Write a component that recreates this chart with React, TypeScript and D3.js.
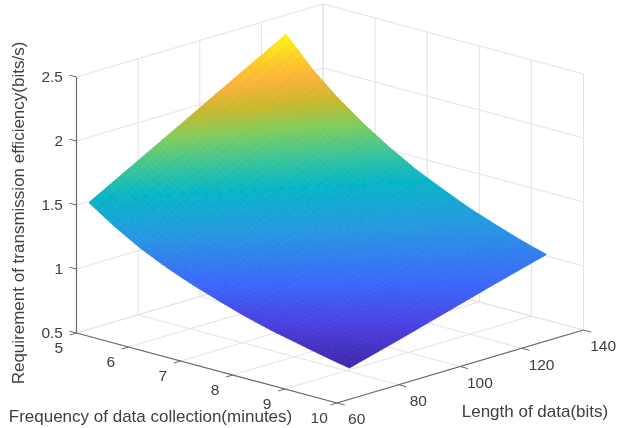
import React, { useEffect, useRef } from "react";
import * as d3 from "d3";

// Values
const frequencyTicks = [5, 6, 7, 8, 9, 10];
const lengthTicks = [60, 80, 100, 120, 140];
const efficiencyTicks = [0.5, 1, 1.5, 2, 2.5];

const frequencies = [5, 5.5, 6, 6.5, 7, 7.5, 8, 8.5, 9, 9.5, 10];
const lengths = [64, 80, 96, 112, 128];

const effAt64 = [1.49, 1.355, 1.24, 1.145, 1.065, 0.995, 0.93, 0.875, 0.83, 0.785, 0.745];
const effAt80 = [1.705, 1.55, 1.42, 1.31, 1.22, 1.135, 1.065, 1.005, 0.945, 0.895, 0.85];
const effAt96 = [1.92, 1.745, 1.6, 1.475, 1.37, 1.28, 1.2, 1.13, 1.065, 1.01, 0.96];
const effAt112 = [2.135, 1.94, 1.78, 1.64, 1.525, 1.425, 1.335, 1.255, 1.185, 1.125, 1.07];
const effAt128 = [2.35, 2.135, 1.96, 1.81, 1.68, 1.565, 1.47, 1.38, 1.305, 1.235, 1.175];
const efficiency = [effAt64, effAt80, effAt96, effAt112, effAt128];

// colour at a given height, sampled from the surface
const colorStops = [0.745, 0.9, 1.07, 1.31, 1.51, 1.65, 1.81, 1.95, 2.08, 2.18, 2.35];
const colorValues = ["#3e26a8", "#4a3fe0", "#3a68fa", "#2699e0", "#05b4c8", "#35c39c", "#7fcc5f", "#c8b82c", "#f8b23a", "#fdc52c", "#f9f815"];

const GRID = "#e3e3e3";
const AXIS = "#6a6a6a";
const TEXT = "#404040";
const FONT = "'Liberation Sans', Arial, sans-serif";

const SurfaceChart = () => {
  const chartRef = useRef<SVGSVGElement | null>(null);

  useEffect(() => {
    drawChart();
  }, []);

  const drawChart = () => {
    const svg = d3.select(chartRef.current);
    svg.selectAll("*").remove();

    // the reference is a slightly soft bitmap
    svg
      .append("defs")
      .append("filter")
      .attr("id", "soft")
      .append("feGaussianBlur")
      .attr("stdDeviation", 0.45);
    const root = svg.append("g").attr("filter", "url(#soft)");

    // oblique projection, each axis adds its own screen offset
    const fx = d3.scaleLinear().domain([5, 10]).range([0, 260.5]);
    const fy = d3.scaleLinear().domain([5, 10]).range([0, 70]);
    const lx = d3.scaleLinear().domain([60, 140]).range([76.5, 323]);
    const ly = d3.scaleLinear().domain([60, 140]).range([0, -73]);
    const zy = d3.scaleLinear().domain([0.5, 2.5]).range([333, 77]);

    const project = (f: number, l: number, z: number): [number, number] => [
      fx(f) + lx(l),
      fy(f) + ly(l) + zy(z),
    ];

    const color = d3
      .scaleLinear<string>()
      .domain(colorStops)
      .range(colorValues)
      .interpolate(d3.interpolateRgb)
      .clamp(true);

    const line = d3.line();
    const gridLine = (a: [number, number, number], b: [number, number, number]) =>
      root
        .append("path")
        .attr("d", line([project(a[0], a[1], a[2]), project(b[0], b[1], b[2])]))
        .attr("fill", "none")
        .attr("stroke", GRID)
        .attr("stroke-width", 1);

    // back walls and floor
    efficiencyTicks.forEach((z) => {
      gridLine([5, 60, z], [5, 140, z]);
      gridLine([5, 140, z], [10, 140, z]);
    });
    lengthTicks.forEach((l) => {
      gridLine([5, l, 0.5], [10, l, 0.5]);
      gridLine([5, l, 0.5], [5, l, 2.5]);
    });
    frequencyTicks.forEach((f) => {
      gridLine([f, 60, 0.5], [f, 140, 0.5]);
      gridLine([f, 140, 0.5], [f, 140, 2.5]);
    });

    // interpolated shading: split each grid cell into small quads
    const stepsF = 5;
    const stepsL = 12;
    const surface = root.append("g");
    for (let i = 0; i < lengths.length - 1; i++) {
      for (let j = 0; j < frequencies.length - 1; j++) {
        const at = (u: number, v: number): [number, number, number] => {
          const f = frequencies[j] + (frequencies[j + 1] - frequencies[j]) * v;
          const l = lengths[i] + (lengths[i + 1] - lengths[i]) * u;
          const z0 = efficiency[i][j] + (efficiency[i][j + 1] - efficiency[i][j]) * v;
          const z1 = efficiency[i + 1][j] + (efficiency[i + 1][j + 1] - efficiency[i + 1][j]) * v;
          return [f, l, z0 + (z1 - z0) * u];
        };
        for (let a = 0; a < stepsL; a++) {
          for (let b = 0; b < stepsF; b++) {
            const corners = [
              at(a / stepsL, b / stepsF),
              at((a + 1) / stepsL, b / stepsF),
              at((a + 1) / stepsL, (b + 1) / stepsF),
              at(a / stepsL, (b + 1) / stepsF),
            ];
            const fill = color(d3.mean(corners, (c) => c[2]) as number);
            surface
              .append("path")
              .attr("d", line(corners.map((c) => project(c[0], c[1], c[2]))) + "Z")
              .attr("fill", fill)
              .attr("stroke", fill)
              .attr("stroke-width", 0.7);
          }
        }
      }
    }

    const axisLine = (a: [number, number, number], b: [number, number, number]) =>
      root
        .append("path")
        .attr("d", line([project(a[0], a[1], a[2]), project(b[0], b[1], b[2])]))
        .attr("fill", "none")
        .attr("stroke", AXIS)
        .attr("stroke-width", 1.2);

    const label = (text: string, x: number, y: number, anchor = "middle", size = 15.5) =>
      root
        .append("text")
        .attr("x", x)
        .attr("y", y)
        .attr("dy", "0.35em")
        .attr("text-anchor", anchor)
        .attr("font-family", FONT)
        .attr("font-size", size)
        .attr("fill", TEXT)
        .text(text);

    // axes
    axisLine([5, 60, 0.5], [5, 60, 2.5]);
    axisLine([5, 60, 0.5], [10, 60, 0.5]);
    axisLine([10, 60, 0.5], [10, 140, 0.5]);

    efficiencyTicks.forEach((z) => {
      const [x, y] = project(5, 60, z);
      root
        .append("path")
        .attr("d", line([[x, y], [x - 7, y - 1.8]]))
        .attr("stroke", AXIS)
        .attr("fill", "none");
      label(String(z), 63, y, "end");
    });
    frequencyTicks.forEach((f) => {
      const [x, y] = project(f, 60, 0.5);
      root
        .append("path")
        .attr("d", line([[x, y], project(f, 57.8, 0.5)]))
        .attr("stroke", AXIS)
        .attr("fill", "none");
      label(String(f), x - 17.8, y + 15);
    });
    lengthTicks.forEach((l) => {
      const [x, y] = project(10, l, 0.5);
      root
        .append("path")
        .attr("d", line([[x, y], project(10.15, l, 0.5)]))
        .attr("stroke", AXIS)
        .attr("fill", "none");
      label(String(l), x + 19.7, y + 16);
    });

    // axis titles
    label("Frequency of data collection(minutes)", 150.5, 416, "middle", 17);
    label("Length of data(bits)", 535, 411, "middle", 17);
    root
      .append("text")
      .attr("transform", "translate(18,213) rotate(-90)")
      .attr("dy", "0.35em")
      .attr("text-anchor", "middle")
      .attr("font-family", FONT)
      .attr("font-size", 17)
      .attr("fill", TEXT)
      .text("Requirement of transmission efficiency(bits/s)");
  };

  return (
    <svg
      ref={chartRef}
      width={623}
      height={428}
      style={{ position: "absolute", left: 0, top: 0, background: "#fff" }}
    ></svg>
  );
};

export default function App() {
  return <SurfaceChart />;
}
